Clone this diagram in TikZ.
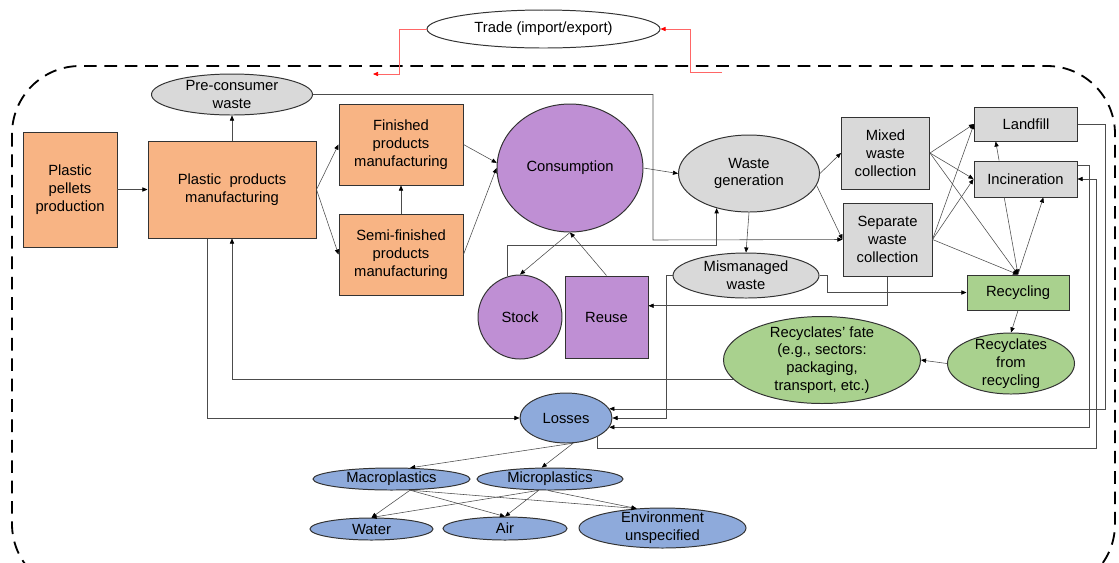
\documentclass[tikz,border=0pt]{standalone}
\usepackage{fontspec}
\setmainfont{Liberation Sans}
\usetikzlibrary{shapes.geometric,arrows.meta,positioning,calc}

\definecolor{orng}{RGB}{248,180,132}
\definecolor{purp}{RGB}{191,143,212}
\definecolor{grey}{RGB}{217,217,217}
\definecolor{grn}{RGB}{169,209,142}
\definecolor{blu}{RGB}{142,170,219}

\tikzset{
  every node/.style={font=\fontsize{10.5}{12.6}\selectfont, align=center},
  sz/.style 2 args={minimum width=#1*0.025cm, minimum height=#2*0.025cm},
  rbox/.style={rectangle, draw=black!80, line width=0.7pt, inner sep=0pt},
  ebox/.style={ellipse, draw=black!80, line width=0.7pt, inner sep=-6pt},
  flow/.style={draw=black!70, line width=0.4pt, -{Triangle[length=3.6pt,width=3pt,color=black]}},
  trd/.style={draw=red!60, line width=0.5pt, -{Triangle[length=3.6pt,width=3pt,color=red]}}
}

\begin{document}
\begin{tikzpicture}[x=0.025cm,y=-0.025cm]
\useasboundingbox (0,0) rectangle (1119,562);

\draw[line width=1.3pt, dash pattern=on 9pt off 5.5pt, rounded corners=1.7cm] (12,66) rectangle (1115,592);

% production side
\node (pellet) at (70,189.5) [rbox, fill=orng, sz={94}{115}] {Plastic\\pellets\\production};
\node (prod) at (232,189.5) [rbox, fill=orng, sz={168}{97}] {Plastic~ products\\manufacturing};
\node (fin) at (401,144.5) [rbox, fill=orng, sz={124}{81}] {Finished\\products\\manufacturing};
\node (semi) at (401,254.5) [rbox, fill=orng, sz={124}{81}] {Semi-finished\\products\\manufacturing};
\node (pre) at (232,94.5) [ebox, fill=grey, sz={161}{41}] {Pre-consumer\\waste};
\node (trade) at (543.5,29) [ebox, fill=white, sz={233}{38}] {Trade (import/export)};

% use phase
\node (cons) at (570,168) [ebox, fill=purp, sz={146}{128}] {Consumption};
\node (stock) at (520,317) [ebox, fill=purp, sz={84}{84}] {Stock};
\node (reuse) at (606.5,317) [rbox, fill=purp, sz={83}{82}] {Reuse};

% waste side
\node (wgen) at (749,173.5) [ebox, fill=grey, sz={141}{77}] {Waste\\generation};
\node (misman) at (746,275.5) [ebox, fill=grey, sz={146}{45}] {Mismanaged\\waste};
\node (mixed) at (885.5,153) [rbox, fill=grey, sz={88}{72}] {Mixed\\waste\\collection};
\node (sep) at (887.5,239.5) [rbox, fill=grey, sz={89}{73}] {Separate\\waste\\collection};
\node (land) at (1026,124) [rbox, fill=grey, sz={103}{34}] {Landfill};
\node (inc) at (1025.5,179) [rbox, fill=grey, sz={103}{36}] {Incineration};
\node (recyc) at (1018,292.5) [rbox, fill=grn, sz={102}{35}] {Recycling};
\node (fate) at (822,360) [ebox, fill=grn, sz={197}{87}] {Recyclates’ fate\\(e.g., sectors:\\packaging,\\transport, etc.)};
\node (rfrom) at (1011,363.5) [ebox, fill=grn, sz={127}{61}] {Recyclates\\from\\recycling};

% losses
\node (loss) at (566,418) [ebox, fill=blu, sz={92}{50}] {Losses};
\node (macro) at (391.5,479) [ebox, fill=blu, sz={157}{22}] {Macroplastics};
\node (micro) at (550,479) [ebox, fill=blu, sz={146}{22}] {Microplastics};
\node (water) at (371.5,529) [ebox, fill=blu, sz={123}{22}] {Water};
\node (air) at (505,528.5) [ebox, fill=blu, sz={124}{23}] {Air};
\node (env) at (662.5,528) [ebox, fill=blu, sz={167}{40}] {Environment\\unspecified};

\coordinate (tout) at (373,74);
\coordinate (tin) at (722,72);
\draw[trd] (trade.west) -- ++(-27,0) |- (tout);
\draw[trd] (tin) -- ++(-32,0) |- (trade.east);

\draw[flow] (pellet.east) -- (prod.west);
\draw[flow] (prod.north) -- (pre.south);
\draw[flow] (prod.east) -- (fin.west);
\draw[flow] (prod.east) -- (semi.west);
\draw[flow] (semi.north) -- (fin.south);
\draw[flow] (fin.east) -- (cons.176);
\draw[flow] (semi.east) -- (cons.west);
\draw[flow] (cons.east) -- (wgen.west);
\draw[flow] (cons.south) -- (stock.north);
\draw[flow] (reuse.north) -- (cons.south);
\draw[flow] (stock.107) -- ++(0,-31) -| (wgen.227);
\draw[flow] (wgen.east) -- (mixed.west);
\draw[flow] (wgen.-10) -- (sep.west);
\draw[flow] (pre.east) -| (653,240) -- (sep.west);
\draw[flow] (wgen.south) -- (misman.north);

\foreach \s in {mixed,sep} {
\foreach \t in {land.west,inc.west,recyc.north} {
\draw[flow] (\s.east) -- (\t);
}
}
\draw[flow] (inc.145) -- (land.210);
\draw[flow] (inc.221) -- (recyc.north);
\draw[flow] (recyc.north) -- (inc.-46);
\draw[flow] (misman.east) -- ++(8,0) |- (recyc.west);
\draw[flow] (sep.south) |- (reuse.15);
\draw[flow] (recyc.south) -- (rfrom.north);
\draw[flow] (rfrom.west) -- (fate.east);
\draw[flow] (fate.192) -| (prod.south);

% flows to losses
\draw[flow] ($(prod.south)+(-25,0)$) |- (loss.west);
\draw[flow] (misman.west) -- ++(-6,0) |- (loss.east);
\draw[flow] (land.east) -- ++(27,0) |- (loss.12);
\draw[flow] (inc.15) -- ++(12,0) |- (loss.-12);
\draw[flow] (loss.-31) |- (1096,448) |- (inc.east);

\draw[flow] (loss.-74) -- (macro.31);
\draw[flow] (loss.-74) -- (micro.126);
\foreach \t in {water.north,air.north,env.143} {
\draw[flow] (macro.-31) -- (\t);
}
\draw[flow] (micro.225) -- (water.north);
\draw[flow] (micro.225) -- (air.north);
\draw[flow] (micro.260) -- (env.143);
\end{tikzpicture}
\end{document}
